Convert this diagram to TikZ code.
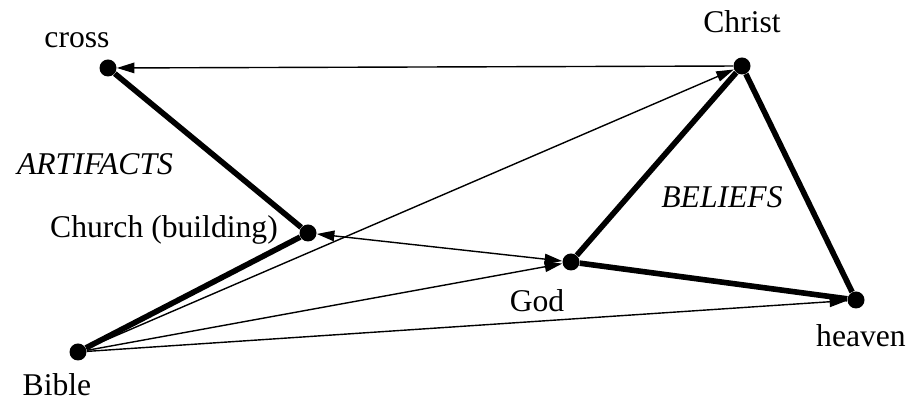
\documentclass[tikz,border=0pt]{standalone}
\usepackage{fontspec}
\setmainfont{Liberation Serif}
\usepackage{tikz}
\usetikzlibrary{arrows.meta, positioning}
\tikzset{
  vertex/.style={
    circle, fill=black, inner sep=0pt, minimum size=0.34cm
  },
  tag/.style={font=\fontsize{18}{20}\selectfont, inner sep=1pt},
  group/.style={font=\fontsize{18}{20}\selectfont\itshape, inner sep=1pt},
  strong/.style={line width=3.2pt},
  link/.style={-{Triangle[length=10pt, width=6pt]}, line width=0.8pt},
  duallink/.style={{Triangle[length=10pt, width=6pt]}-{Triangle[length=10pt, width=6pt]}, line width=0.8pt}
}

\begin{document}
\begin{tikzpicture}
  \useasboundingbox (0,0) rectangle (18.18,8.06);

  % Vertices
  \node[vertex] (cross)  at (2.16,6.70)  {};
  \node[vertex] (christ) at (14.84,6.74) {};
  \node[vertex] (church) at (6.16,3.40)  {};
  \node[vertex] (god)    at (11.42,2.82) {};
  \node[vertex] (heaven) at (17.12,2.06) {};
  \node[vertex] (bible)  at (1.56,1.02)  {};

  % Labels
  \node[tag] (crosstxt)  at (1.54,7.26)  {cross};
  \node[tag] (christtxt) at (14.84,7.62) {Christ};
  \node[tag] (churchtxt) at (3.28,3.46)  {Church (building)};
  \node[tag] (godtxt)    at (10.74,2.04) {God};
  \node[tag] (heaventxt) at (17.22,1.34) {heaven};
  \node[tag] (bibletxt)  at (1.14,0.36)  {Bible};
  \node[group] (artifacts) at (1.90,4.78) {ARTIFACTS};
  \node[group] (beliefs)   at (14.44,4.12) {BELIEFS};

  % Strong ties
  \draw[strong] (cross) -- (church);
  \draw[strong] (church) -- (bible);
  \draw[strong] (christ) -- (god);
  \draw[strong] (christ) -- (heaven);
  \draw[strong] (god) -- (heaven);

  % Directed links
  \draw[link] (christ) -- (cross);
  \draw[link] (bible) -- (christ);
  \draw[link] (bible) -- (god);
  \draw[link] (bible) -- (heaven);
  \draw[duallink] (church) -- (god);
\end{tikzpicture}
\end{document}
